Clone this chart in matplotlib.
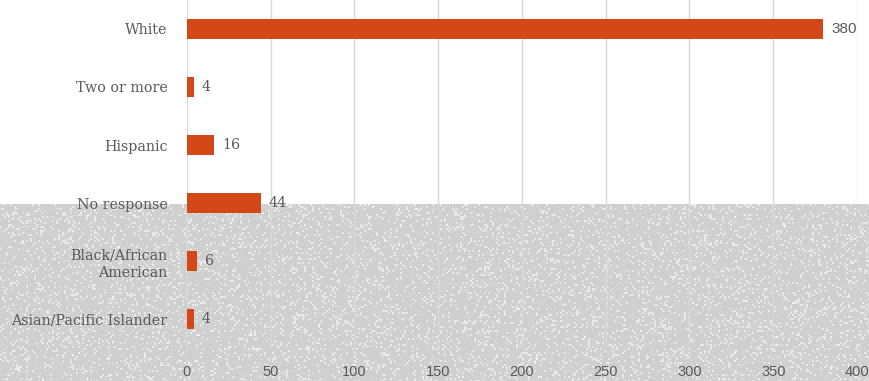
import numpy as np
import matplotlib
matplotlib.use("Agg")
import matplotlib.pyplot as plt

# Survey responses by race / ethnicity
categories = ["White", "Two or more", "Hispanic", "No response",
              "Black/African\nAmerican", "Asian/Pacific Islander"]
counts = [380, 4, 16, 44, 6, 4]
x_ticks = [0, 50, 100, 150, 200, 250, 300, 350, 400]

BAR = "#D34817"
TEXT = "#595959"
GRID = "#D9D9D9"
SERIF = ["DejaVu Serif"]
SANS = ["Liberation Sans", "DejaVu Sans"]

W, H = 870, 381
fig = plt.figure(figsize=(W / 100, H / 100), dpi=100)
fig.patch.set_facecolor("white")

# Speckled grey backdrop across the lower part of the slide
band_top = 204
bg = fig.add_axes([0, 0, 1, (H - band_top) / H], zorder=0)
rng = np.random.default_rng(7)
bh, bw = H - band_top, W
coarse = rng.random((bh // 2 + 1, bw // 2 + 1))
speck = np.kron(coarse, np.ones((2, 2)))[:bh, :bw]
fine = rng.random((bh, bw))
tex = np.full((bh, bw), 0.81)
tex += np.where(speck > 0.86, 0.09, 0.0)
tex += np.where(fine > 0.93, 0.07, 0.0)
tex = np.clip(tex, 0, 1)
bg.imshow(tex, cmap="gray", vmin=0, vmax=1, aspect="auto", interpolation="bilinear")
bg.set_axis_off()

left, right = 187 / W, 857 / W
top, bottom = 1.0, (H - 348) / H
ax = fig.add_axes([left, bottom, right - left, top - bottom], zorder=1)
ax.patch.set_alpha(0)

y = np.arange(len(categories))
ax.barh(y, counts, height=0.345, color=BAR, zorder=3)
ax.set_xlim(0, 400)
ax.set_ylim(len(categories) - 0.5, -0.5)

ax.set_xticks(x_ticks)
ax.set_xticklabels([str(t) for t in x_ticks], family=SANS, fontsize=10.5, color=TEXT)
ax.set_yticks(y)
ax.set_yticklabels(categories, family=SERIF, fontsize=10.3, color=TEXT,
                   linespacing=1.35)
ax.tick_params(axis="x", length=0, pad=12)
ax.tick_params(axis="y", length=0, pad=14)
ax.xaxis.grid(True, color=GRID, linewidth=1, zorder=0)
ax.set_axisbelow(True)
for s in ax.spines.values():
    s.set_visible(False)

for yi, v in zip(y, counts):
    big = v >= 100
    ax.annotate(str(v), (v, yi), xytext=(6, 0), textcoords="offset points",
                ha="left", va="center", fontsize=11 if big else 10.3,
                color=TEXT, family=SANS if big else SERIF)

fig.savefig("out.png", dpi=100)
